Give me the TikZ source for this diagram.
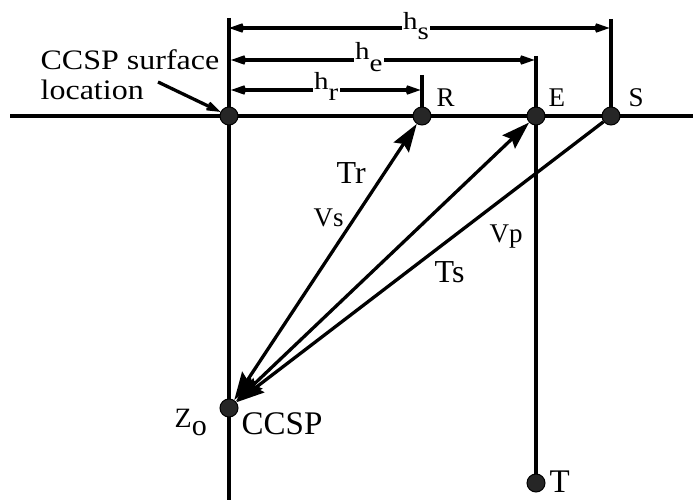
\documentclass[tikz,border=0pt]{standalone}
\usepackage{fontspec}
\setmainfont{Liberation Serif}
\usetikzlibrary{arrows.meta}
\begin{document}
\begin{tikzpicture}[x=1pt,y=-1pt,line width=3.3pt,
  dot/.style={circle,draw=black,line width=1pt,fill=black!85,inner sep=0pt,minimum size=18pt},
  barbhead/.tip={Stealth[length=27pt,width=19pt,inset=17pt]},
  rayhead/.tip={Stealth[length=28pt,width=18pt,inset=4pt]},
  dimarrow/.style={barbhead-barbhead},
  lbl/.style={inner sep=0pt,anchor=base west},
  big/.style={font=\fontsize{33}{36}\selectfont},
  mid/.style={font=\fontsize{27}{30}\selectfont},
  hlbl/.style={inner sep=1.5pt,anchor=base west,fill=white,font=\fontsize{29}{30}\selectfont},
]
\useasboundingbox (0,0) rectangle (693,502);
% coordinates
\coordinate (gl) at (10,116);
\coordinate (gr) at (693,116);
\coordinate (vt) at (229,18);
\coordinate (vb) at (229,500);
\coordinate (stop) at (611,19);
\coordinate (sb) at (611,116);
\coordinate (etop) at (536,56);
\coordinate (tb) at (536,483);
\coordinate (rtop) at (422,75);
\coordinate (rb) at (422,116);
\coordinate (hsl) at (229,28);
\coordinate (hsr) at (609.5,28);
\coordinate (hel) at (231,60);
\coordinate (her) at (534.5,60);
\coordinate (hrl) at (231,90);
\coordinate (hrr) at (420.5,90);
\coordinate (ptr) at (158,82);
% lines
\draw (gl) -- (gr);
\draw (vt) -- (vb);
\draw (stop) -- (sb);
\draw (etop) -- (tb);
\draw (rtop) -- (rb);
\draw[dimarrow] (hsl) -- (hsr);
\draw[dimarrow] (hel) -- (her);
\draw[dimarrow] (hrl) -- (hrr);
% dots
\node[dot] (O) at (229,116) {};
\node[dot] (R) at (422,116) {};
\node[dot] (E) at (536,116) {};
\node[dot] (S) at (611,116) {};
\node[dot] (C) at (229,408) {};
\node[dot] (T) at (536,483) {};
% rays
\draw[rayhead-rayhead] (C) -- (R);
\draw[rayhead-rayhead] (C) -- (E);
\draw[-rayhead] (S) -- (C);
\draw[-barbhead] (ptr) -- (O);
% dimension labels
\node[hlbl] (hs) at (400,30) {\scalebox{1}[0.85]{h\raisebox{-11pt}{s}}};
\node[hlbl] (he) at (352,60) {\scalebox{1}[0.85]{h\raisebox{-14pt}{e}}};
\node[hlbl] (hr) at (311,90) {\scalebox{1}[0.85]{h\raisebox{-12pt}{r}}};
% text labels
\node[lbl,font=\fontsize{32}{36}\selectfont] (t1) at (39,70) {\scalebox{1}[0.88]{CCSP surface}};
\node[lbl,font=\fontsize{32}{36}\selectfont] (t2) at (39,100) {\scalebox{1}[0.88]{location}};
\node[lbl,mid] (lR) at (435,107) {R};
\node[lbl,mid] (lE) at (547,107) {E};
\node[lbl,mid] (lS) at (627,107) {S};
\node[lbl,big] (lC) at (240,434) {CCSP};
\node[lbl,big] (lT) at (548,492) {T};
\node[lbl,font=\fontsize{32}{36}\selectfont] (lTr) at (335,184) {Tr};
\node[lbl,mid] (lVs) at (312,227) {Vs};
\node[lbl,font=\fontsize{32}{36}\selectfont] (lTs) at (433,283) {Ts};
\node[lbl,mid] (lVp) at (488,243) {Vp};
\node[lbl,font=\fontsize{28}{30}\selectfont] (lZ) at (173,427) {Z\raisebox{-8pt}{\fontsize{30}{30}\selectfont o}};
\end{tikzpicture}
\end{document}
